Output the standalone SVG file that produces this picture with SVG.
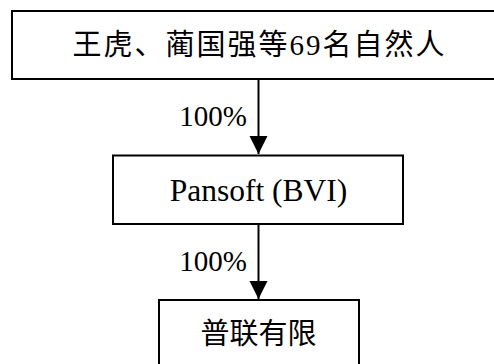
<svg xmlns="http://www.w3.org/2000/svg" width="494" height="364" viewBox="0 0 494 364">
<style>
.box{fill:#fff;stroke:#000;stroke-width:2}
.t{font-family:"Liberation Serif","Noto Sans CJK SC",serif;font-size:29px;fill:#000}
.c{text-anchor:middle;dominant-baseline:central}
.lbl{text-anchor:end}
.edge{stroke:#000;stroke-width:2;fill:none}
</style>
<defs>
<marker id="arr" markerUnits="userSpaceOnUse" markerWidth="18" markerHeight="22" refX="16" refY="8" orient="auto" viewBox="0 0 16 16">
<path d="M0,0 L16,8 L0,16 Z" fill="#000"/>
</marker>
</defs>
<rect width="494" height="364" fill="#fff"/>
<g id="edges">
<line class="edge" x1="258.5" y1="80" x2="258.5" y2="154" marker-end="url(#arr)"/>
<line class="edge" x1="258.5" y1="225" x2="258.5" y2="299" marker-end="url(#arr)"/>
<text class="t lbl" x="247" y="126">100%</text>
<text class="t lbl" x="247" y="271">100%</text>
</g>
<g id="node-holders">
<rect class="box" x="12" y="11" width="495" height="68"/>
<text class="t c" x="259.5" y="45" letter-spacing="2">王虎、蔺国强等69名自然人</text>
</g>
<g id="node-pansoft">
<rect class="box" x="113" y="155.5" width="290" height="68.5"/>
<text class="t c" x="258.5" y="190" style="font-size:31.5px">Pansoft (BVI)</text>
</g>
<g id="node-pulian">
<rect class="box" x="159" y="300" width="200" height="70"/>
<text class="t c" x="258.5" y="334">普联有限</text>
</g>
</svg>
